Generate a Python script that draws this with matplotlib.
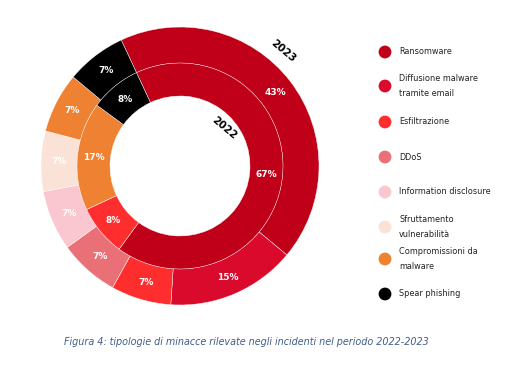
import numpy as np
import matplotlib
matplotlib.use("Agg")
import matplotlib.pyplot as plt

# threat categories (legend order)
categories = ["Ransomware", "Diffusione malware\ntramite email", "Esfiltrazione", "DDoS",
              "Information disclosure", "Sfruttamento\nvulnerabilità",
              "Compromissioni da\nmalware", "Spear phishing"]
colors = ["#C00018", "#DA0A2C", "#FF2E2E", "#EA7078", "#FAC6CF", "#FBE2D6", "#EE8232", "#000000"]

# 2023 (outer ring) and 2022 (inner ring) shares, %
share_2023 = [43, 15, 7, 7, 7, 7, 7, 7]
share_2022 = [67, 0, 8, 0, 0, 0, 17, 8]

W, H = 531, 367
fig = plt.figure(figsize=(W / 100, H / 100), dpi=100)

cx, cy, R = 180, 166, 139
ax = fig.add_axes([(cx - R) / W, (H - cy - R) / H, 2 * R / W, 2 * R / H])

start = 115
pct = lambda p: f"{p:.0f}%" if p > 0 else ""
txt = dict(color="white", fontsize=6.5, fontweight="bold")

# outer ring 2023
ax.pie(share_2023, colors=colors, radius=1.0, startangle=start, counterclock=False,
       wedgeprops=dict(width=0.26, edgecolor="white", linewidth=0.3),
       autopct=pct, pctdistance=0.87, textprops=txt)

# inner ring 2022 (skip zero categories)
idx = [i for i, v in enumerate(share_2022) if v > 0]
r_in = 103 / R
ax.pie([share_2022[i] for i in idx], colors=[colors[i] for i in idx], radius=r_in,
       startangle=start, counterclock=False,
       wedgeprops=dict(width=33 / R, edgecolor="white", linewidth=0.3),
       autopct=pct, pctdistance=0.84, textprops=txt)

ax.set_xlim(-1, 1)
ax.set_ylim(-1, 1)
ax.set_aspect("equal")
ax.axis("off")

# year labels
ax.text(0.74, 0.83, "2023", rotation=-40, ha="center", va="center",
        fontsize=7.5, fontweight="bold", color="black")
ax.text(0.32, 0.27, "2022", rotation=-40, ha="center", va="center",
        fontsize=7.5, fontweight="bold", color="black")

# legend drawn on an overlay in pixel coords
lg = fig.add_axes([0, 0, 1, 1])
lg.set_xlim(0, W)
lg.set_ylim(H, 0)
lg.axis("off")
marker_y = [52, 86, 122, 157, 192, 227, 259, 294]
for y, c, lab in zip(marker_y, colors, categories):
    lg.scatter(385, y, s=85, color=c, edgecolor="none")
    lg.text(399, y, lab, ha="left", va="center", fontsize=5.9, color="#222222",
            linespacing=1.8, family="DejaVu Sans")

# caption
fig.text(246 / W, 1 - 342 / H,
         "Figura 4: tipologie di minacce rilevate negli incidenti nel periodo 2022-2023",
         ha="center", va="center", fontsize=6.9, style="italic", color="#3F5E8C")

fig.savefig("out.png", dpi=100)
